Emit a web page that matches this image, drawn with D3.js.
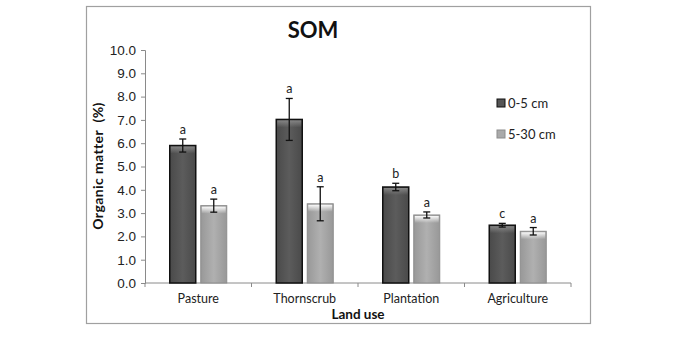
<!DOCTYPE html>
<html><head><meta charset="utf-8">
<script src="https://cdn.jsdelivr.net/npm/d3@7"></script>
<style>body{margin:0;background:#fff;} svg{display:block;font-family:Lato, "Open Sans", sans-serif;}</style>
</head><body><svg id="c" width="685" height="344"></svg>
<script>
const categories = ["Pasture","Thornscrub","Plantation","Agriculture"];
const seriesNames = ["0-5 cm","5-30 cm"];
const shallow = [5.9, 7.02, 4.12, 2.48];
const shallowErr = [0.28, 0.9, 0.16, 0.08];
const shallowLetters = ["a","a","b","c"];
const deep = [3.32, 3.4, 2.92, 2.22];
const deepErr = [0.28, 0.73, 0.13, 0.16];
const deepLetters = ["a","a","a","a"];
const yTicks = [0,1,2,3,4,5,6,7,8,9,10];

const svg = d3.select("#c");
const defs = svg.append("defs");
const gd = defs.append("linearGradient").attr("id","gDark").attr("x1",0).attr("x2",1).attr("y1",0).attr("y2",0);
gd.append("stop").attr("offset","0%").attr("stop-color","#4a4a4a");
gd.append("stop").attr("offset","50%").attr("stop-color","#5c5c5c");
gd.append("stop").attr("offset","100%").attr("stop-color","#4a4a4a");
const gl = defs.append("linearGradient").attr("id","gLight").attr("x1",0).attr("x2",1).attr("y1",0).attr("y2",0);
gl.append("stop").attr("offset","0%").attr("stop-color","#989898");
gl.append("stop").attr("offset","50%").attr("stop-color","#b0b0b0");
gl.append("stop").attr("offset","100%").attr("stop-color","#989898");
const hd = defs.append("linearGradient").attr("id","hDark").attr("x1",0).attr("x2",0).attr("y1",0).attr("y2",1);
hd.append("stop").attr("offset","0%").attr("stop-color","#8a8a8a").attr("stop-opacity",0.9);
hd.append("stop").attr("offset","100%").attr("stop-color","#8a8a8a").attr("stop-opacity",0);
const hl = defs.append("linearGradient").attr("id","hLight").attr("x1",0).attr("x2",0).attr("y1",0).attr("y2",1);
hl.append("stop").attr("offset","0%").attr("stop-color","#ffffff").attr("stop-opacity",0.95);
hl.append("stop").attr("offset","100%").attr("stop-color","#ffffff").attr("stop-opacity",0);

// outer frame
svg.append("rect").attr("x",86.5).attr("y",6.5).attr("width",504).attr("height",317)
  .attr("fill","#fff").attr("stroke","#a0a0a0").attr("stroke-width",1.2);

const x = d3.scaleBand().domain(categories).range([145,571]).paddingInner(0).paddingOuter(0);
const y = d3.scaleLinear().domain([0,10]).range([283,50]);
const barW = 26, gap = 5;

// axes
const yAxis = d3.axisLeft(y).tickValues(yTicks).tickFormat(d3.format(".1f")).tickSize(4).tickPadding(5);
const ya = svg.append("g").attr("transform","translate(145,0)").call(yAxis);
ya.selectAll("path,line").attr("stroke","#8a8a8a");
ya.selectAll("text").attr("font-size",13.5).attr("fill","#222");

const xa = svg.append("g").attr("transform","translate(0,283)");
xa.append("line").attr("x1",145).attr("x2",571).attr("stroke","#8a8a8a");
const bounds = categories.map(c=>x(c)).concat([x(categories[3])+x.bandwidth()]);
xa.selectAll("line.t").data(bounds).join("line").attr("class","t")
  .attr("x1",d=>d).attr("x2",d=>d).attr("y1",0).attr("y2",4).attr("stroke","#8a8a8a");
xa.selectAll("text").data(categories).join("text")
  .attr("x",d=>x(d)+x.bandwidth()/2).attr("y",20).attr("text-anchor","middle")
  .attr("font-size",12.5).attr("fill","#222").text(d=>d);

function cx(c, s){ const m = x(c)+x.bandwidth()/2; return s===0 ? m - gap/2 - barW : m + gap/2; }

// bars
const series = [
  {vals:shallow, err:shallowErr, let:shallowLetters, fill:"url(#gDark)", hi:"url(#hDark)", stroke:"#111"},
  {vals:deep, err:deepErr, let:deepLetters, fill:"url(#gLight)", hi:"url(#hLight)", stroke:"#8c8c8c"}
];
series.forEach((s,si)=>{
  const g = svg.append("g");
  g.selectAll("rect").data(categories).join("rect")
    .attr("x",c=>cx(c,si)).attr("y",(c,i)=>y(s.vals[i]))
    .attr("width",barW).attr("height",(c,i)=>y(0)-y(s.vals[i]))
    .attr("fill",s.fill).attr("stroke",s.stroke).attr("stroke-width",si===0?1.5:1);
  g.selectAll("rect.hl").data(categories).join("rect").attr("class","hl")
    .attr("x",c=>cx(c,si)+1).attr("y",(c,i)=>y(s.vals[i])+1)
    .attr("width",barW-2).attr("height",7)
    .attr("fill", s.hi);
  categories.forEach((c,i)=>{
    const m = cx(c,si)+barW/2;
    const t = y(s.vals[i]+s.err[i]), b = y(s.vals[i]-s.err[i]);
    g.append("line").attr("x1",m).attr("x2",m).attr("y1",t).attr("y2",b).attr("stroke","#111").attr("stroke-width",1.3);
    g.append("line").attr("x1",m-3.5).attr("x2",m+3.5).attr("y1",t).attr("y2",t).attr("stroke","#111").attr("stroke-width",1.3);
    g.append("line").attr("x1",m-3.5).attr("x2",m+3.5).attr("y1",b).attr("y2",b).attr("stroke","#111").attr("stroke-width",1.3);
    g.append("text").attr("x",m).attr("y",t-5).attr("text-anchor","middle")
      .attr("font-size",12.5).attr("fill","#222").text(s.let[i]);
  });
});

// title
svg.append("text").attr("x",313).attr("y",38).attr("text-anchor","middle")
  .attr("font-size",22).attr("font-weight","bold").attr("fill","#111").text("SOM");
// axis titles
svg.append("text").attr("transform","translate(103,166) rotate(-90)").attr("text-anchor","middle")
  .attr("font-size",14).attr("font-weight","bold").attr("fill","#111").attr("letter-spacing",0.4)
  .attr("xml:space","preserve").text("Organic matter  (%)");
svg.append("text").attr("x",358).attr("y",319).attr("text-anchor","middle")
  .attr("font-size",13.5).attr("font-weight","bold").attr("fill","#111").text("Land use");

// legend
const lg = svg.append("g");
seriesNames.forEach((n,i)=>{
  const yy = 103 + i*31;
  lg.append("rect").attr("x",497).attr("y",yy-4).attr("width",8).attr("height",8)
    .attr("fill", i===0?"#555":"#aaa").attr("stroke", i===0?"#111":"#8c8c8c");
  lg.append("text").attr("x",508).attr("y",yy+4.5).attr("font-size",13).attr("fill","#222").text(n);
});
</script></body></html>
